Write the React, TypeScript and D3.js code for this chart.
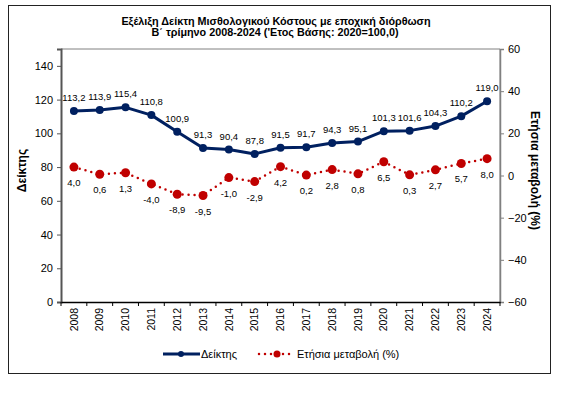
import { useEffect, useRef } from "react";
import * as d3 from "d3";

// data
const years = ["2008", "2009", "2010", "2011", "2012", "2013", "2014", "2015", "2016", "2017", "2018", "2019", "2020", "2021", "2022", "2023", "2024"];
const indexValues = [113.2, 113.9, 115.4, 110.8, 100.9, 91.3, 90.4, 87.8, 91.5, 91.7, 94.3, 95.1, 101.3, 101.6, 104.3, 110.2, 119.0];
const changeValues = [4.0, 0.6, 1.3, -4.0, -8.9, -9.5, -1.0, -2.9, 4.2, 0.2, 2.8, 0.8, 6.5, 0.3, 2.7, 5.7, 8.0];
const leftTicks = [0, 20, 40, 60, 80, 100, 120, 140];
const rightTicks = [-60, -40, -20, 0, 20, 40, 60];

const W = 579, H = 397;
const NAVY = "#002060";
const RED = "#C00000";
const FONT = "'Liberation Sans', Arial, sans-serif";

const fmt = (v: number) => v.toFixed(1).replace(".", ",");

const App = () => {
  const ref = useRef<SVGSVGElement>(null);

  useEffect(() => {
    const svg = d3.select(ref.current);
    svg.selectAll("*").remove();

    const left = 61, right = 500, top = 49, bottom = 302;
    const x = d3.scaleBand(years, [left, right]);
    const yL = d3.scaleLinear([0, 150], [bottom, top]);
    const yR = d3.scaleLinear([-60, 60], [bottom, top]);
    const cx = (d: string) => (x(d) as number) + x.bandwidth() / 2;

    // outer frame
    svg.append("rect").attr("x", 8.5).attr("y", 5.5).attr("width", 542).attr("height", 368)
      .attr("fill", "white").attr("stroke", "#222").attr("stroke-width", 1);

    // titles
    const title = svg.append("text").attr("text-anchor", "middle").attr("font-family", FONT)
      .attr("font-weight", "bold").attr("font-size", 10.8).attr("fill", "#000");
    title.append("tspan").attr("x", 276).attr("y", 25).text("Εξέλιξη Δείκτη Μισθολογικού Κόστους με εποχική διόρθωση");
    title.append("tspan").attr("x", 275).attr("y", 36).text("Β΄ τρίμηνο 2008-2024 ('Ετος Βάσης: 2020=100,0)");

    // plot area border
    svg.append("path").attr("d", `M${left},${top}H${right}V${bottom}`).attr("fill", "none")
      .attr("stroke", "#808080").attr("stroke-width", 1);

    // left axis
    const gl = svg.append("g").attr("transform", `translate(${left},0)`)
      .call(d3.axisLeft(yL).tickValues(leftTicks).tickSize(4).tickPadding(4));
    gl.select(".domain").attr("stroke", "#555").attr("stroke-width", 2);
    gl.selectAll(".tick line").attr("stroke", "#555");
    gl.selectAll("text").attr("font-family", FONT).attr("font-size", 11).attr("fill", "#000");

    // right axis
    const gr = svg.append("g").attr("transform", `translate(${right},0)`)
      .call(d3.axisRight(yR).tickValues(rightTicks).tickSize(4).tickPadding(4));
    gr.select(".domain").attr("stroke", "#808080").attr("stroke-width", 1.5);
    gr.selectAll(".tick line").attr("stroke", "#808080");
    gr.selectAll("text").attr("font-family", FONT).attr("font-size", 11).attr("fill", "#000");

    // bottom axis
    const gb = svg.append("g").attr("transform", `translate(0,${bottom})`)
      .call(d3.axisBottom(x).tickSize(0).tickSizeOuter(0));
    gb.select(".domain").attr("stroke", "#000").attr("stroke-width", 1.5);
    gb.selectAll(".tick text").attr("font-family", FONT).attr("font-size", 10.5).attr("fill", "#000")
      .attr("text-anchor", "end").attr("dy", "0.35em")
      .attr("transform", "translate(0,6) rotate(-90)").attr("x", 0).attr("y", 0);
    // tick marks at band boundaries
    gb.selectAll(".bt").data(years.concat(["end"])).enter().append("line")
      .attr("x1", (d, i) => left + i * x.step()).attr("x2", (d, i) => left + i * x.step())
      .attr("y1", 0).attr("y2", 4).attr("stroke", "#000");

    // axis titles
    svg.append("text").attr("transform", `translate(26,${(top + bottom) / 2 - 5}) rotate(-90)`)
      .attr("text-anchor", "middle").attr("font-family", FONT).attr("font-weight", "bold")
      .attr("font-size", 12).text("Δείκτης");
    svg.append("text").attr("transform", `translate(531,${(top + bottom) / 2 - 5}) rotate(90)`)
      .attr("text-anchor", "middle").attr("font-family", FONT).attr("font-weight", "bold")
      .attr("font-size", 12).text("Ετήσια μεταβολή (%)");

    // index line
    const lineL = d3.line<number>().x((d, i) => cx(years[i])).y((d) => yL(d));
    svg.append("path").attr("d", lineL(indexValues)).attr("fill", "none")
      .attr("stroke", NAVY).attr("stroke-width", 3).attr("stroke-linejoin", "round");
    svg.append("g").selectAll("circle").data(indexValues).enter().append("circle")
      .attr("cx", (d, i) => cx(years[i])).attr("cy", (d) => yL(d)).attr("r", 4).attr("fill", NAVY);
    svg.append("g").selectAll("text").data(indexValues).enter().append("text")
      .attr("x", (d, i) => cx(years[i])).attr("y", (d) => yL(d) - 10)
      .attr("text-anchor", "middle").attr("font-family", FONT).attr("font-size", 9.5).attr("fill", "#000")
      .text((d) => fmt(d));

    // change line
    const lineR = d3.line<number>().x((d, i) => cx(years[i])).y((d) => yR(d));
    svg.append("path").attr("d", lineR(changeValues)).attr("fill", "none")
      .attr("stroke", RED).attr("stroke-width", 2.5).attr("stroke-linecap", "round")
      .attr("stroke-dasharray", "0 6");
    svg.append("g").selectAll("circle").data(changeValues).enter().append("circle")
      .attr("cx", (d, i) => cx(years[i])).attr("cy", (d) => yR(d)).attr("r", 4.5).attr("fill", RED);
    svg.append("g").selectAll("text").data(changeValues).enter().append("text")
      .attr("x", (d, i) => cx(years[i])).attr("y", (d) => yR(d) + 19)
      .attr("text-anchor", "middle").attr("font-family", FONT).attr("font-size", 9.5).attr("fill", "#000")
      .text((d) => fmt(d));

    // legend
    const ly = 354;
    const lg = svg.append("g");
    lg.append("line").attr("x1", 163).attr("x2", 200).attr("y1", ly).attr("y2", ly)
      .attr("stroke", NAVY).attr("stroke-width", 3);
    lg.append("circle").attr("cx", 181).attr("cy", ly).attr("r", 3).attr("fill", NAVY);
    lg.append("text").attr("x", 201).attr("y", ly + 4).attr("font-family", FONT).attr("font-size", 11)
      .text("Δείκτης");
    lg.append("line").attr("x1", 259).attr("x2", 295).attr("y1", ly).attr("y2", ly)
      .attr("stroke", RED).attr("stroke-width", 2.5).attr("stroke-linecap", "round").attr("stroke-dasharray", "0 6");
    lg.append("circle").attr("cx", 277).attr("cy", ly).attr("r", 3.5).attr("fill", RED);
    lg.append("text").attr("x", 297).attr("y", ly + 4).attr("font-family", FONT).attr("font-size", 11)
      .text("Ετήσια μεταβολή (%)");
  }, []);

  return (
    <svg ref={ref} width={W} height={H}
      style={{ position: "absolute", left: 0, top: 0, background: "white" }} />
  );
};

export default App;
